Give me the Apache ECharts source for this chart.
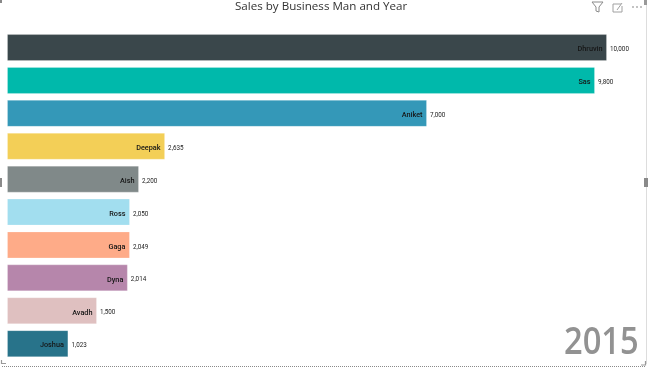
<!DOCTYPE html>
<html><head><meta charset="utf-8">
<style>html,body{margin:0;padding:0;background:#fff}#c{width:650px;height:372px}</style>
<script src="https://cdn.jsdelivr.net/npm/echarts@6/dist/echarts.min.js"></script>
</head><body><div id="c"></div>
<script>
const names = ['Dhruvin','Sas','Aniket','Deepak','Aish','Ross','Gaga','Dyna','Avadh','Joshua'];
const sales = [10000,9800,7000,2635,2200,2050,2049,2014,1500,1023];
const fills = ['#3A474B','#00B9AB','#3498B8','#F3CF57','#808989','#A2DEEF','#FEAB88','#B686AB','#DFC0C0','#28738A'];
const year = '2015';
const chart = echarts.init(document.getElementById('c'), null, {renderer:'canvas'});
const font = '"Open Sans","Noto Sans",sans-serif';
const small = 'Roboto,"Open Sans",sans-serif';
chart.setOption({
  animation:false,
  grid:{left:7,top:31.1,width:600,height:329,containLabel:false},
  xAxis:{type:'value',min:0,max:10000,show:false},
  yAxis:{type:'category',data:names,inverse:true,show:false},
  series:[
    {type:'bar',barWidth:27,
     data:sales.map((v,i)=>({value:v,itemStyle:{color:fills[i],borderColor:'rgba(255,255,255,0.22)',borderWidth:1}})),
     label:{show:true,position:'insideRight',distance:4.5,offset:[0,2],formatter:p=>p.name,fontFamily:small,fontSize:7.3,fontWeight:500,color:'#161616'},z:2},
    {type:'bar',barWidth:27,barGap:'-100%',
     data:sales,itemStyle:{color:'transparent'},
     label:{show:true,position:'right',distance:3,offset:[0,2],formatter:p=>p.value.toLocaleString('en-US'),fontFamily:small,fontSize:6.3,color:'#222'},z:3}
  ],
  graphic:[
    {type:'text',x:235,y:1,style:{text:'Sales by Business Man and Year',font:'11.6px '+font,fill:'#333'}},
    {type:'text',x:564,y:324,scaleX:0.86,style:{text:year,font:'600 38px '+font,fill:'#929292'}},
    {type:'polyline',shape:{points:[[592,2],[603,2],[599,7],[599,12],[596,11],[596,7],[592,2]]},style:{fill:'none',stroke:'#8a8a8a',lineWidth:1}},
    {type:'polyline',shape:{points:[[621,4],[613,4],[613,12],[622,12],[622,6]]},style:{fill:'none',stroke:'#a0a0a0',lineWidth:1}},
    {type:'line',shape:{x1:617,y1:10,x2:622,y2:3},style:{stroke:'#a0a0a0',lineWidth:1}},
    {type:'circle',shape:{cx:633,cy:7,r:0.8},style:{fill:'#777'}},
    {type:'circle',shape:{cx:637,cy:7,r:0.8},style:{fill:'#777'}},
    {type:'circle',shape:{cx:641,cy:7,r:0.8},style:{fill:'#777'}},
    {type:'line',shape:{x1:646.5,y1:0,x2:646.5,y2:364},style:{stroke:'#dddddd',lineWidth:1}},
    {type:'line',shape:{x1:2,y1:366.5,x2:646,y2:366.5},style:{stroke:'#8a8a8a',lineWidth:1,lineDash:[1,1]}},
    {type:'polyline',shape:{points:[[1.5,360],[1.5,363.5],[6,363.5]]},style:{fill:'none',stroke:'#999',lineWidth:1.2}},
    {type:'polyline',shape:{points:[[645.5,361],[645.5,365],[641,365]]},style:{fill:'none',stroke:'#999',lineWidth:1.2}},
    {type:'rect',shape:{x:644,y:0,width:3,height:5},style:{fill:'#999'}},
    {type:'rect',shape:{x:644,y:178,width:4,height:9},style:{fill:'#8a8a8a'}},
    {type:'rect',shape:{x:0,y:178,width:2,height:9},style:{fill:'#8a8a8a'}},
    {type:'rect',shape:{x:0,y:0,width:2,height:3},style:{fill:'#888'}}
  ]
});
</script></body></html>
